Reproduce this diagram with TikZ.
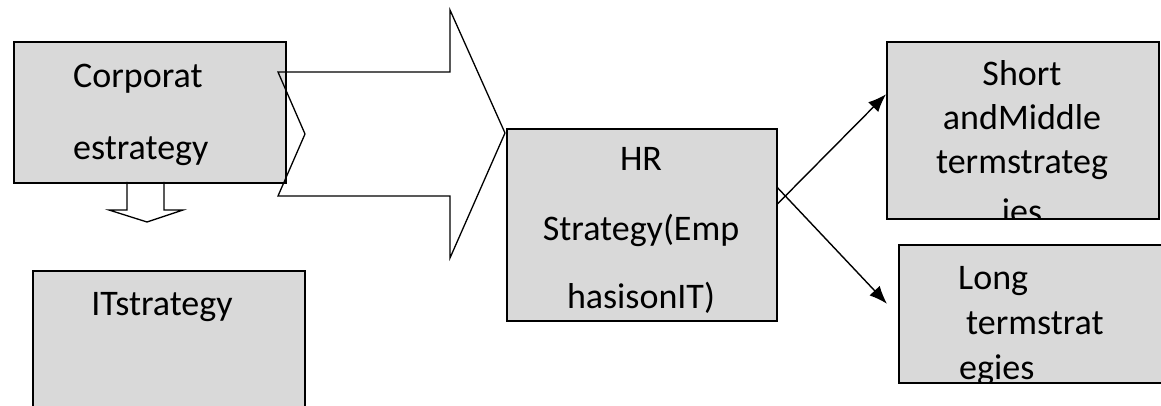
\documentclass[tikz,border=0pt]{standalone}
\usepackage{fontspec}
\setmainfont{Carlito}
\usetikzlibrary{arrows.meta}
\usetikzlibrary{positioning}
\definecolor{boxgray}{RGB}{217,217,217}

\begin{document}
\begin{tikzpicture}[x=1pt, y=-1pt,
                box/.style={draw, line width=1.6pt, fill=boxgray, inner sep=0pt, anchor=north west},
                lbl/.style={font=\fontsize{36}{43}\selectfont, inner sep=0pt, anchor=base},
                blockarrow/.style={line width=1.3pt, line join=miter},
                arrow/.style={line width=1.4pt, -{Latex[length=18pt, width=14pt]}},
            ]
                \clip (0,0) rectangle (1161,406);

                % boxes
                \node[box, minimum width=272pt, minimum height=141pt] (corp) at (13,41) {};
                \node[box, minimum width=272pt, minimum height=160pt] (it) at (32,270) {};
                \node[box, minimum width=270pt, minimum height=192pt] (hr) at (506,128) {};
                \node[box, minimum width=272pt, minimum height=177pt] (short) at (886,41) {};
                \node[box, minimum width=290pt, minimum height=138pt] (long) at (898,244) {};

                % texts
                \node[lbl, anchor=base west] (corp1) at (73,88) {Corporat};
                \node[lbl, anchor=base west] (corp2) at (73,160) {estrategy};
                \node[lbl] (it1) at (162,315) {ITstrategy};
                \node[lbl] (hr1) at (641,171) {HR};
                \node[lbl] (hr2) at (641,240) {Strategy(Emp};
                \node[lbl] (hr3) at (641,308) {hasisonIT)};
                \begin{scope}
                    \clip (short.north west) rectangle (short.south east);
                    \node[lbl] (short1) at (1022,86) {Short};
                    \node[lbl] (short2) at (1022,130) {andMiddle};
                    \node[lbl] (short3) at (1022,174) {termstrateg};
                    \node[lbl] (short4) at (1022,223) {ies};
                \end{scope}
                \begin{scope}
                    \clip (long.north west) rectangle (long.south east);
                    \node[lbl, anchor=base west] (long1) at (958,289) {Long};
                    \node[lbl, anchor=base west] (long2) at (966,334) {termstrat};
                    \node[lbl, anchor=base west] (long3) at (959,379) {egies};
                \end{scope}

                % block arrows
                \draw[blockarrow] (127,182) -- (127,210) -- (109,210) -- (147,222) -- (183,210) -- (164,210) -- (164,182);
                \draw[blockarrow] (278,72) -- (450,72) -- (450,10) -- (505,133) -- (450,258) -- (450,196) -- (278,196) -- (305,134) -- cycle;

                \draw[arrow] ([yshift=21pt]hr.east) -- ([yshift=36pt]short.west);
                \draw[arrow] ([yshift=37pt]hr.east) -- ([xshift=-11pt, yshift=10pt]long.west);
            \end{tikzpicture}
\end{document}
